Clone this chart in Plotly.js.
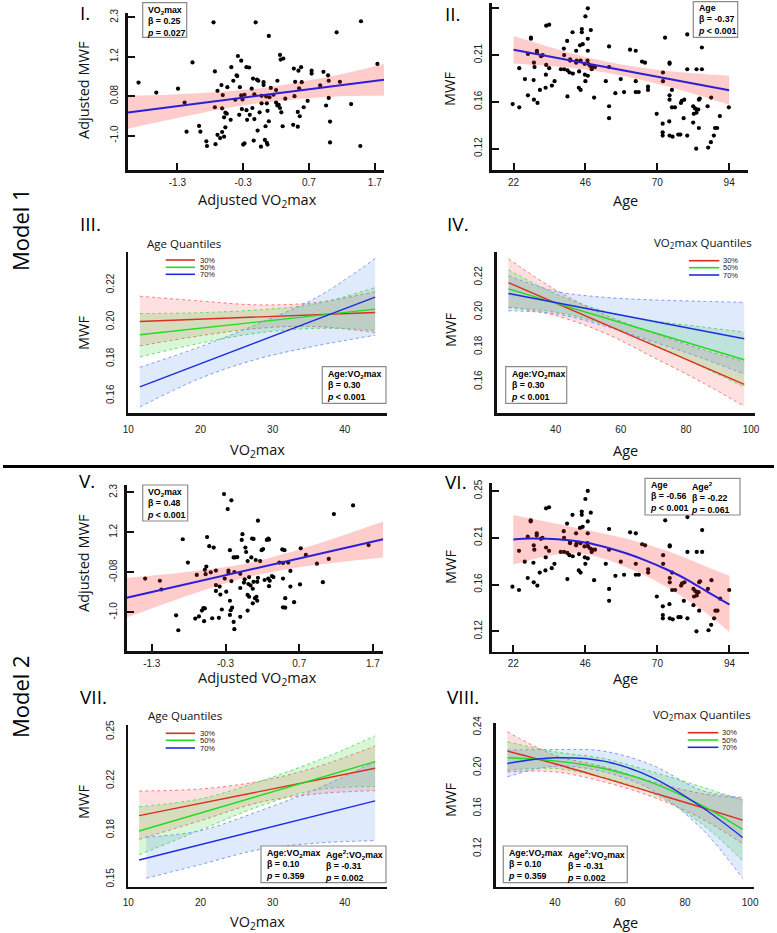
<!DOCTYPE html>
<html><head><meta charset="utf-8">
<script src="https://cdn.plot.ly/plotly-3.0.1.min.js"></script>
<style>html,body{margin:0;padding:0;background:#fff}#chart{width:777px;height:933px}</style>
</head><body><div id="chart"></div>
<script>
// ---------- Panel I (Model 1): adjusted VO2max vs adjusted MWF ----------
const adjVo2_m1 = [-0.75,-0.11,1.49,1.12,0.09,-1.07,-0.38,-0.33,0.26,0.27,0.31,-1.89,-1.62,-1.29,-1.19,-0.73,-0.48,-0.40,-0.39,-0.25,-0.21,-0.45,-0.63,-0.54,-0.69,-0.61,-0.15,-0.09,-0.07,0.01,0.01,0.22,-0.35,-0.17,-0.28,-0.33,-0.42,-0.31,-0.13,-0.02,0.12,0.20,0.16,0.10,0.05,0.47,0.54,0.58,0.49,0.59,0.55,0.48,0.34,0.74,0.74,0.92,0.99,1.00,0.87,1.17,1.00,0.68,-0.73,-0.62,-0.57,-0.55,-0.59,-0.49,-0.36,-0.32,-0.25,-0.16,-0.20,-0.24,-0.13,-0.02,-0.05,0.06,0.07,0.09,0.20,0.22,0.24,0.26,0.28,0.30,0.53,0.56,0.62,0.46,0.53,-0.97,-0.95,-1.16,-0.57,-0.62,-0.69,-0.65,-0.59,-0.86,-0.85,-0.72,-0.30,-0.28,-0.14,-0.03,0.03,0.06,0.07,-0.08,0.04,0.96,1.02,1.02,1.34,1.48,1.74];
const adjMwf_m1 = [2.16,2.16,2.19,1.88,1.78,1.04,1.22,1.09,1.25,1.12,1.15,0.48,0.20,0.31,-0.08,0.79,0.91,0.68,0.66,0.91,0.90,0.53,0.41,0.35,0.25,0.13,0.59,0.56,0.53,0.49,0.41,0.53,0.35,0.31,0.14,0.12,0.00,0.01,0.15,0.11,0.33,0.27,0.14,0.07,0.09,0.87,0.81,0.91,0.50,0.49,0.32,0.10,0.03,0.81,0.73,0.78,0.68,0.53,0.40,0.50,0.05,-0.03,-0.21,-0.24,-0.36,-0.39,-0.49,-0.56,-0.42,-0.26,-0.29,-0.23,-0.42,-0.56,-0.54,-0.10,-0.35,-0.10,-0.31,-0.60,-0.08,-0.16,-0.14,-0.23,-0.35,-0.74,-0.34,-0.46,-0.21,-0.70,-0.75,-0.73,-0.89,-0.89,-0.77,-0.90,-0.98,-1.07,-1.03,-1.16,-1.29,-1.24,-1.25,-1.22,-1.14,-1.31,-1.12,-1.20,-1.25,-0.86,-0.74,-0.16,-0.61,-1.19,-0.12,-1.29,1.00];
const fitX_m1 = [-2.05, 1.84];
const fitY_m1 = [-0.353, 0.56];
const ciX_m1 = [-2.05,-1.3,-0.6,0.0,0.6,1.2,1.84];
const ciUp_m1 = [0.10,0.15,0.23,0.33,0.51,0.72,1.00];
const ciLo_m1 = [-0.81,-0.51,-0.25,-0.08,0.03,0.10,0.11];

// ---------- Panels II & VI: Age vs MWF ----------
const age = [46.8,46.0,32.9,33.9,41.7,44.8,44.8,47.8,27.8,27.8,39.9,46.8,45.1,44.2,53.9,38.8,42.9,46.8,29.8,29.8,26.8,31.7,31.2,28.8,38.9,40.9,40.9,43.1,42.9,44.4,46.7,46.9,45.7,47.6,48.3,49.2,48.1,60.9,62.8,64.9,65.9,72.6,80.0,84.9,74.1,74.1,80.0,83.1,84.9,23.9,29.0,32.9,33.9,37.8,38.9,40.0,40.7,41.8,43.9,45.8,46.8,53.9,71.9,25.8,28.7,32.8,35.7,34.8,32.7,30.8,46.0,52.8,57.8,62.8,66.9,66.9,71.9,74.9,43.8,44.4,26.8,40.0,48.9,56.0,58.9,62.8,63.8,74.1,74.1,21.7,23.9,28.8,30.0,53.9,53.9,69.8,71.8,71.8,71.8,74.0,74.9,75.9,77.9,78.2,79.0,78.8,74.1,75.1,77.0,77.7,80.0,82.0,82.2,82.6,83.2,83.7,83.9,84.2,83.1,82.0,83.9,86.8,88.0,90.9,89.3,90.0,88.9,87.9,87.0,83.0,93.9];
const mwf = [0.249,0.2416,0.233,0.234,0.227,0.230,0.227,0.229,0.222,0.221,0.219,0.221,0.216,0.215,0.214,0.212,0.210,0.210,0.210,0.208,0.207,0.206,0.205,0.199,0.206,0.202,0.201,0.201,0.199,0.201,0.201,0.198,0.198,0.196,0.195,0.195,0.193,0.211,0.210,0.200,0.199,0.222,0.225,0.213,0.199,0.198,0.193,0.193,0.193,0.194,0.195,0.197,0.194,0.193,0.193,0.192,0.190,0.189,0.191,0.188,0.187,0.195,0.190,0.184,0.183,0.188,0.182,0.178,0.176,0.174,0.182,0.182,0.184,0.182,0.177,0.174,0.182,0.174,0.176,0.174,0.169,0.168,0.167,0.171,0.172,0.172,0.172,0.169,0.165,0.161,0.158,0.165,0.162,0.159,0.148,0.152,0.143,0.135,0.132,0.145,0.158,0.158,0.162,0.164,0.165,0.148,0.132,0.131,0.133,0.133,0.132,0.159,0.152,0.157,0.156,0.156,0.165,0.166,0.153,0.144,0.139,0.159,0.167,0.150,0.139,0.139,0.132,0.126,0.121,0.120,0.158];
const fitX_m1age = [22, 94];
const fitY_m1age = [0.2109, 0.1737];
const ciX_m1age = [22,34,46,58,70,82,94];
const ciUp_m1age = [0.2235,0.2135,0.2043,0.1973,0.1926,0.1894,0.1871];
const ciLo_m1age = [0.1983,0.1959,0.1927,0.1873,0.1796,0.1704,0.1603];

const fitX_m2age = [22,27.6,33.1,39.8,46.4,53.1,59.8,66.4,73.1,79.8,86.4,94];
const fitY_m2age = [0.2044,0.2053,0.2050,0.2038,0.2014,0.1971,0.1915,0.1848,0.1768,0.1676,0.1568,0.1446];
const ciUp_m2age = [0.2268,0.2238,0.2207,0.2170,0.2130,0.2093,0.2050,0.1998,0.1940,0.1869,0.1793,0.1710];
const ciLo_m2age = [0.1814,0.1854,0.1891,0.1915,0.1909,0.1860,0.1786,0.1707,0.1608,0.1492,0.1363,0.1194];

// ---------- Panel V (Model 2) ----------
const adjVo2_m2 = [-0.32,-0.22,-0.27,0.14,1.43,1.17,-0.88,-0.81,-0.55,-0.52,-0.46,-0.24,-0.07,-0.08,-0.03,-0.02,0.06,0.08,0.05,0.19,0.21,0.26,0.28,0.29,-0.19,-0.17,-0.14,0.00,0.11,0.17,0.47,0.50,0.43,0.48,0.55,0.58,0.72,0.79,0.94,1.10,1.64,-1.39,-1.19,-1.17,-0.69,-0.58,-0.56,-0.57,-0.50,-0.43,-0.26,-0.26,-0.18,-0.10,-0.22,-0.31,-0.43,-0.38,-0.43,-0.37,-0.29,-0.10,-0.05,-0.04,0.01,0.02,0.04,0.08,0.13,0.14,0.00,0.02,0.07,0.10,0.12,0.13,0.07,0.23,0.28,0.30,0.33,0.35,0.29,0.48,0.58,0.71,1.02,0.51,0.48,0.51,0.63,-0.24,-0.21,-0.23,-0.35,-0.24,-0.19,-0.18,-0.10,0.00,-0.48,-0.39,-0.60,-0.58,-0.62,-0.66,-0.71,-0.59,-0.97,-0.94];
const adjMwf_m2 = [2.25,2.08,1.84,1.52,1.94,1.70,1.01,0.37,1.07,0.82,0.78,0.71,1.15,0.99,0.78,0.66,1.03,1.02,0.51,0.71,0.74,0.99,1.03,1.00,0.51,0.51,0.52,0.41,0.44,0.41,0.73,0.71,0.37,0.36,0.37,0.14,0.76,0.58,0.34,0.47,0.85,-0.07,-0.13,-0.37,0.03,0.17,0.26,0.05,0.10,0.15,0.15,0.09,0.11,0.06,-0.14,-0.07,-0.25,-0.29,-0.41,-0.51,-0.43,-0.33,-0.18,-0.09,-0.22,-0.03,-0.26,-0.16,-0.16,-0.05,-0.52,-0.57,-0.35,-0.61,-0.57,-0.68,-0.75,-0.11,-0.07,-0.13,0.00,-0.03,-0.28,-0.07,-0.29,-0.23,-0.17,-0.61,-0.86,-0.87,-0.72,-0.68,-0.87,-0.94,-0.92,-1.07,-1.26,-1.46,-1.12,-0.95,-1.16,-1.15,-0.88,-0.89,-0.95,-1.11,-1.17,-1.24,-1.08,-1.49];
const fitX_m2 = [-1.64, 1.84];
const fitY_m2 = [-0.597, 1.01];
const ciX_m2 = [-1.64,-1.0,-0.5,0.0,0.5,1.0,1.84];
const ciUp_m2 = [-0.05,0.07,0.19,0.35,0.61,0.92,1.50];
const ciLo_m2 = [-1.14,-0.67,-0.33,-0.03,0.17,0.32,0.51];

// ---------- Panel III: MWF vs VO2max by age quantile (Model 1) ----------
const vo2_p3 = [11.6,20,28,36,44.2];
const q30_p3 = [0.2002,0.2015,0.2027,0.2039,0.2051];
const q30up_p3 = [0.2139,0.2113,0.2092,0.2105,0.2163];
const q30lo_p3 = [0.1870,0.1925,0.1965,0.1975,0.1942];
const q50_p3 = [0.1930,0.1966,0.2000,0.2034,0.2069];
const q50up_p3 = [0.2045,0.2050,0.2065,0.2098,0.2186];
const q50lo_p3 = [0.1810,0.1885,0.1940,0.1965,0.1955];
const q70_p3 = [0.1648,0.1773,0.1893,0.2012,0.2134];
const q70up_p3 = [0.1754,0.1866,0.1990,0.2130,0.2343];
const q70lo_p3 = [0.1539,0.1695,0.1800,0.1870,0.1928];

// ---------- Panel IV: MWF vs Age by VO2max quantile (Model 1) ----------
const age_p4 = [25.5,40,55,70,85,97.9];
const q30_p4 = [0.2170,0.2053,0.1932,0.1810,0.1689,0.1584];
const q30up_p4 = [0.2307,0.2128,0.1985,0.1880,0.1785,0.1716];
const q30lo_p4 = [0.2029,0.1980,0.1880,0.1740,0.1595,0.1458];
const q50_p4 = [0.2134,0.2052,0.1968,0.1883,0.1799,0.1726];
const q50up_p4 = [0.2243,0.2105,0.2005,0.1950,0.1915,0.1885];
const q50lo_p4 = [0.2025,0.2000,0.1930,0.1815,0.1685,0.1569];
const q70_p4 = [0.2107,0.2055,0.2001,0.1947,0.1893,0.1847];
const q70up_p4 = [0.2209,0.2120,0.2085,0.2070,0.2062,0.2056];
const q70lo_p4 = [0.2008,0.1990,0.1920,0.1830,0.1735,0.1644];

// ---------- Panel VII (Model 2) ----------
const vo2_p7 = [11.5,20,28,36,44.2];
const vo2band70_p7 = [12.5,20,28,36,44.2];
const q30_p7 = [0.1931,0.2014,0.2092,0.2171,0.2252];
const q30up_p7 = [0.2098,0.2112,0.2162,0.2259,0.2403];
const q30lo_p7 = [0.1771,0.1897,0.2019,0.2078,0.2101];
const q50_p7 = [0.1827,0.1949,0.2064,0.2179,0.2297];
const q50up_p7 = [0.1992,0.2045,0.2160,0.2300,0.2471];
const q50lo_p7 = [0.1665,0.1834,0.1992,0.2105,0.2128];
const q70_p7 = [0.1631,0.1735,0.1833,0.1931,0.2031];
const q70up_p7 = [0.1785,0.1830,0.1960,0.2110,0.2297];
const q70lo_p7 = [0.1507,0.1600,0.1700,0.1745,0.1762];

// ---------- Panel VIII (Model 2) ----------
const age_p8 = [25.4,40,55,70,85,97.7];
const q30_p8 = [0.2165,0.2040,0.1900,0.1755,0.1610,0.1483];
const q30up_p8 = [0.2356,0.2125,0.2010,0.1862,0.1746,0.1697];
const q30lo_p8 = [0.1960,0.1960,0.1862,0.1713,0.1499,0.1252];
const q50_p8 = [0.2099,0.2069,0.1993,0.1852,0.1631,0.1391];
const q50up_p8 = [0.2257,0.2158,0.2092,0.1960,0.1812,0.1680];
const q50lo_p8 = [0.1977,0.1993,0.1904,0.1746,0.1450,0.1081];
const q70_p8 = [0.2043,0.2099,0.2066,0.1904,0.1615,0.1312];
const q70up_p8 = [0.2175,0.2181,0.2165,0.2026,0.1779,0.1707];
const q70lo_p8 = [0.1911,0.2016,0.1960,0.1779,0.1401,0.0906];

const quantLabels = ['30%','50%','70%'];

// ---------- helpers ----------
const W = 777, H = 933;
const PX = x => x / W, PY = y => 1 - y / H;
const COL = {
  red: '#dc2e1e', green: '#1fdc1f', blue: '#1c2de0',
  redF: 'rgba(255,70,70,0.17)', greenF: 'rgba(40,205,40,0.18)', blueF: 'rgba(70,130,245,0.17)',
  redD: '#f27a7a', greenD: '#5fe05f', blueD: '#7f98f2'
};
const traces = [];
function sfx(i){ return i === 1 ? '' : String(i); }
function addPoints(i, xs, ys){
  traces.push({type:'scatter', mode:'markers', x:xs, y:ys, xaxis:'x'+sfx(i), yaxis:'y'+sfx(i),
    marker:{size:4.2, color:'#000'}, hoverinfo:'skip', showlegend:false});
}
function addBand(i, xs, lo, up, fillc, dashc, shape){
  const base = {type:'scatter', mode:'lines', xaxis:'x'+sfx(i), yaxis:'y'+sfx(i), hoverinfo:'skip', showlegend:false};
  const ln = dashc ? {width:1, color:dashc, dash:'dot', shape:shape||'linear'} : {width:0, shape:shape||'linear'};
  traces.push(Object.assign({}, base, {x:xs, y:lo, line:ln}));
  traces.push(Object.assign({}, base, {x:xs, y:up, line:ln, fill:'tonexty', fillcolor:fillc}));
}
function addLine(i, xs, ys, color, width, shape){
  traces.push({type:'scatter', mode:'lines', x:xs, y:ys, xaxis:'x'+sfx(i), yaxis:'y'+sfx(i),
    line:{color:color, width:width, shape:shape||'linear'}, hoverinfo:'skip', showlegend:false});
}

// Panel I
addPoints(1, adjVo2_m1, adjMwf_m1);
addBand(1, ciX_m1, ciLo_m1, ciUp_m1, 'rgba(255,40,40,0.24)', null, 'spline');
addLine(1, fitX_m1, fitY_m1, '#2a1fd8', 2);
// Panel II
addPoints(2, age, mwf);
addBand(2, ciX_m1age, ciLo_m1age, ciUp_m1age, 'rgba(255,40,40,0.24)', null, 'spline');
addLine(2, fitX_m1age, fitY_m1age, '#2a1fd8', 2);
// Panel III
addBand(3, vo2_p3, q30lo_p3, q30up_p3, COL.redF, COL.redD, 'spline');
addBand(3, vo2_p3, q50lo_p3, q50up_p3, COL.greenF, COL.greenD, 'spline');
addBand(3, vo2_p3, q70lo_p3, q70up_p3, COL.blueF, COL.blueD, 'spline');
addLine(3, vo2_p3, q30_p3, COL.red, 1.4);
addLine(3, vo2_p3, q50_p3, COL.green, 1.4);
addLine(3, vo2_p3, q70_p3, COL.blue, 1.4);
// Panel IV
addBand(4, age_p4, q30lo_p4, q30up_p4, COL.redF, COL.redD, 'spline');
addBand(4, age_p4, q50lo_p4, q50up_p4, COL.greenF, COL.greenD, 'spline');
addBand(4, age_p4, q70lo_p4, q70up_p4, COL.blueF, COL.blueD, 'spline');
addLine(4, age_p4, q30_p4, COL.red, 1.4);
addLine(4, age_p4, q50_p4, COL.green, 1.4);
addLine(4, age_p4, q70_p4, COL.blue, 1.4);
// Panel V
addPoints(5, adjVo2_m2, adjMwf_m2);
addBand(5, ciX_m2, ciLo_m2, ciUp_m2, 'rgba(255,40,40,0.24)', null, 'spline');
addLine(5, fitX_m2, fitY_m2, '#2a1fd8', 2);
// Panel VI
addPoints(6, age, mwf);
addBand(6, fitX_m2age, ciLo_m2age, ciUp_m2age, 'rgba(255,40,40,0.24)', null, 'spline');
addLine(6, fitX_m2age, fitY_m2age, '#2a1fd8', 2, 'spline');
// Panel VII
addBand(7, vo2_p7, q30lo_p7, q30up_p7, COL.redF, COL.redD, 'spline');
addBand(7, vo2_p7, q50lo_p7, q50up_p7, COL.greenF, COL.greenD, 'spline');
addBand(7, vo2band70_p7, q70lo_p7, q70up_p7, COL.blueF, COL.blueD, 'spline');
addLine(7, vo2_p7, q30_p7, COL.red, 1.4);
addLine(7, vo2_p7, q50_p7, COL.green, 1.4);
addLine(7, vo2_p7, q70_p7, COL.blue, 1.4);
// Panel VIII
addBand(8, age_p8, q30lo_p8, q30up_p8, COL.redF, COL.redD, 'spline');
addBand(8, age_p8, q50lo_p8, q50up_p8, COL.greenF, COL.greenD, 'spline');
addBand(8, age_p8, q70lo_p8, q70up_p8, COL.blueF, COL.blueD, 'spline');
addLine(8, age_p8, q30_p8, COL.red, 1.4, 'spline');
addLine(8, age_p8, q50_p8, COL.green, 1.4, 'spline');
addLine(8, age_p8, q70_p8, COL.blue, 1.4, 'spline');

// ---------- axes ----------
const tickFont = {family:'Liberation Sans, Arial, sans-serif', size:10, color:'#222'};
function axis(d0, d1, range, extra){
  return Object.assign({domain:[d0, d1], range:range, showline:true, linecolor:'#111', linewidth:2.6,
    showgrid:false, zeroline:false, fixedrange:true, tickfont:tickFont, ticks:''}, extra);
}
const scatTicks = {ticks:'inside', ticklen:7, tickwidth:2, tickcolor:'#111'};
const layout = {
  width:W, height:H, margin:{l:0,r:0,t:0,b:0}, paper_bgcolor:'#fff', plot_bgcolor:'rgba(0,0,0,0)',
  showlegend:false, font:{family:'Open Sans, sans-serif', color:'#000'},
  // I
  xaxis: axis(PX(128), PX(384), [-2.05,1.84], Object.assign({anchor:'y', tickvals:[-1.3,-0.3,0.7,1.7], ticktext:['-1.3','-0.3','0.7','1.7'], ticklabelstandoff:1}, scatTicks)),
  yaxis: axis(PY(170), PY(13), [-1.96,2.42], Object.assign({anchor:'x', tickvals:[-1.0,0.1,1.2,2.3], ticktext:['-1.0','0.08','1.2','2.3'], tickangle:-90, ticklabelstandoff:3}, scatTicks)),
  // II
  xaxis2: axis(PX(492), PX(748), [14.8,100.3], Object.assign({anchor:'y2', tickvals:[22,46,70,94], ticklabelstandoff:1}, scatTicks)),
  yaxis2: axis(PY(170), PY(3.3), [0.1004,0.2536], Object.assign({anchor:'x2', tickvals:[0.12,0.163,0.206,0.249], ticktext:['0.12','0.16','0.21','0.25'], tickangle:-90, ticklabelstandoff:3}, scatTicks)),
  // III
  xaxis3: axis(PX(128.3), PX(386.7), [10,45.8], {anchor:'y3', tickvals:[10,20,30,40], ticklabelstandoff:5}),
  yaxis3: axis(PY(413.3), PY(251.7), [0.1505,0.238], {anchor:'x3', tickvals:[0.16,0.18,0.20,0.22], ticktext:['0.16','0.18','0.20','0.22'], tickangle:-90, ticklabelstandoff:8}),
  // IV
  xaxis4: axis(PX(496.7), PX(755), [21.9,101.2], {anchor:'y4', tickvals:[40,60,80,100], ticklabelstandoff:5}),
  yaxis4: axis(PY(413.3), PY(252.3), [0.1418,0.2344], {anchor:'x4', tickvals:[0.16,0.18,0.20,0.22], ticktext:['0.16','0.18','0.20','0.22'], tickangle:-90, ticklabelstandoff:8}),
  // V
  xaxis5: axis(PX(126.7), PX(383.3), [-1.64,1.84], Object.assign({anchor:'y5', tickvals:[-1.3,-0.3,0.7,1.7], ticktext:['-1.3','-0.3','0.7','1.7'], ticklabelstandoff:1}, scatTicks)),
  yaxis5: axis(PY(651), PY(485), [-2.06,2.50], Object.assign({anchor:'x5', tickvals:[-1.0,0.1,1.2,2.3], ticktext:['-1.0','-0.08','1.2','2.3'], tickangle:-90, ticklabelstandoff:3}, scatTicks)),
  // VI
  xaxis6: axis(PX(491.7), PX(749.3), [14.8,100.6], Object.assign({anchor:'y6', tickvals:[22,46,70,94], ticklabelstandoff:1}, scatTicks)),
  yaxis6: axis(PY(651.7), PY(483.3), [0.1013,0.256], Object.assign({anchor:'x6', tickvals:[0.12,0.163,0.206,0.249], ticktext:['0.12','0.16','0.21','0.25'], tickangle:-90, ticklabelstandoff:3}, scatTicks)),
  // VII
  xaxis7: axis(PX(128.3), PX(386.7), [10,45.8], {anchor:'y7', tickvals:[10,20,30,40], ticklabelstandoff:5}),
  yaxis7: axis(PY(886.7), PY(725), [0.145,0.2545], {anchor:'x7', tickvals:[0.15,0.18333,0.21667,0.25], ticktext:['0.15','0.18','0.22','0.25'], tickangle:-90, ticklabelstandoff:8}),
  // VIII
  xaxis8: axis(PX(496), PX(754), [21.9,101.2], {anchor:'y8', tickvals:[40,60,80,100], ticklabelstandoff:5}),
  yaxis8: axis(PY(886.7), PY(723.3), [0.0825,0.244], {anchor:'x8', tickvals:[0.12,0.16,0.20,0.24], ticktext:['0.12','0.16','0.20','0.24'], tickangle:-90, ticklabelstandoff:8})
};

// ---------- annotations & shapes ----------
const ann = [], shapes = [];
const titleFont = {family:'Open Sans, sans-serif', size:14.5, color:'#111'};
function txt(text, x, y, o){
  ann.push(Object.assign({text:text, x:PX(x), y:PY(y), xref:'paper', yref:'paper', showarrow:false,
    xanchor:'center', yanchor:'middle', font:titleFont}, o||{}));
}
const VO2 = 'VO<sub>2</sub>max';
// axis titles
[[83,90,'Adjusted MWF'],[450,89,'MWF'],[83,333,'MWF'],[450,330,'MWF'],[83,563,'Adjusted MWF'],[450,567,'MWF'],[83,802,'MWF'],[450,800,'MWF']]
  .forEach(a => txt(a[2], a[0], a[1], {textangle:-90}));
[[257,200,'Adjusted '+VO2],[625,200,'Age'],[257,450,VO2],[625,450,'Age'],[257,678,'Adjusted '+VO2],[625,678,'Age'],[257,922,VO2],[625,922,'Age']]
  .forEach(a => txt(a[2], a[0], a[1]));
// panel numerals
const numFont = {family:'Open Sans, sans-serif', size:19, color:'#000'};
[['I.',78,13],['II.',443,14],['III.',78,224],['IV.',445,224],['V.',77,481],['VI.',443,482],['VII.',78,697],['VIII.',445,697]]
  .forEach(a => txt(a[0], a[1], a[2], {xanchor:'left', font:numFont}));
// model labels
txt('Model 1', 20, 230, {textangle:-90, font:{family:'Open Sans, sans-serif', size:22, color:'#000'}});
txt('Model 2', 20, 697, {textangle:-90, font:{family:'Open Sans, sans-serif', size:22, color:'#000'}});
shapes.push({type:'line', xref:'paper', yref:'paper', x0:PX(3), x1:PX(774), y0:PY(466.5), y1:PY(466.5), line:{color:'#000', width:3}});

// stat boxes
const boxFont = {family:'Liberation Sans, Arial, sans-serif', size:8.8, color:'#000'};
function box(x0, y0, x1, y1){
  shapes.push({type:'rect', xref:'paper', yref:'paper', x0:PX(x0), x1:PX(x1), y0:PY(y0), y1:PY(y1),
    line:{color:'#8a8a8a', width:1.2}, fillcolor:'#fff', layer:'above'});
}
function stat(lines, x, y){
  txt('<b>' + lines.join('<br>') + '</b>', x, y, {xanchor:'left', yanchor:'top', align:'left', font:boxFont});
}
box(142.7,2.7,186.7,37.3); stat([VO2,'β = 0.25','<i>p</i> = 0.027'], 145, 2.5);
box(693.3,1.7,737.7,37.3); stat(['Age','β = -0.37','<i>p</i> < 0.001'], 696, 1.5);
box(322.3,366.7,386,403.3); stat(['Age:'+VO2,'β = 0.30','<i>p</i> < 0.001'], 325, 366.5);
box(505.7,366.7,566.7,403.3); stat(['Age:'+VO2,'β = 0.30','<i>p</i> < 0.001'], 508.5, 366.5);
box(142.7,485,187.7,521); stat([VO2,'β = 0.48','<i>p</i> < 0.001'], 145, 484.8);
box(645,478.3,740,515); stat(['Age','β = -0.56','<i>p</i> < 0.001'], 648, 478.1); stat(['Age<sup>2</sup>','β = -0.22','<i>p</i> = 0.061'], 689, 478.1);
box(261,846,386,882.7); stat(['Age:'+VO2,'β = 0.10','<i>p</i> = 0.359'], 264, 845.8); stat(['Age<sup>2</sup>:'+VO2,'β = -0.31','<i>p</i> = 0.002'], 323, 845.8);
box(503.3,846,627.3,882.7); stat(['Age:'+VO2,'β = 0.10','<i>p</i> = 0.359'], 506, 845.8); stat(['Age<sup>2</sup>:'+VO2,'β = -0.31','<i>p</i> = 0.002'], 565, 845.8);

// quantile legends
const legTitleFont = {family:'Open Sans, sans-serif', size:11.5, color:'#111'};
const legFont = {family:'Liberation Sans, Arial, sans-serif', size:7.5, color:'#222'};
function legend(title, tx, ty, lx0, lx1, ys, labX){
  txt(title, tx, ty, {font:legTitleFont});
  const cols = [COL.red, COL.green, COL.blue];
  ys.forEach((yy, k) => {
    shapes.push({type:'line', xref:'paper', yref:'paper', x0:PX(lx0), x1:PX(lx1), y0:PY(yy), y1:PY(yy), line:{color:cols[k], width:1.6}});
    txt(quantLabels[k], labX, yy, {xanchor:'left', font:legFont, borderpad:0});
  });
}
legend('Age Quantiles', 184, 243, 165.7, 195, [260,267.3,274.3], 199);
legend(VO2+' Quantiles', 703, 243.3, 689, 719.3, [260.7,267.7,275], 721.5);
legend('Age Quantiles', 185.3, 715, 165.7, 195, [733.3,740.3,748], 199);
legend(VO2+' Quantiles', 702, 715, 687.7, 718.3, [732.7,740,747.3], 721);

layout.annotations = ann;
layout.shapes = shapes;
Plotly.newPlot('chart', traces, layout, {staticPlot:true, displayModeBar:false});
</script></body></html>
